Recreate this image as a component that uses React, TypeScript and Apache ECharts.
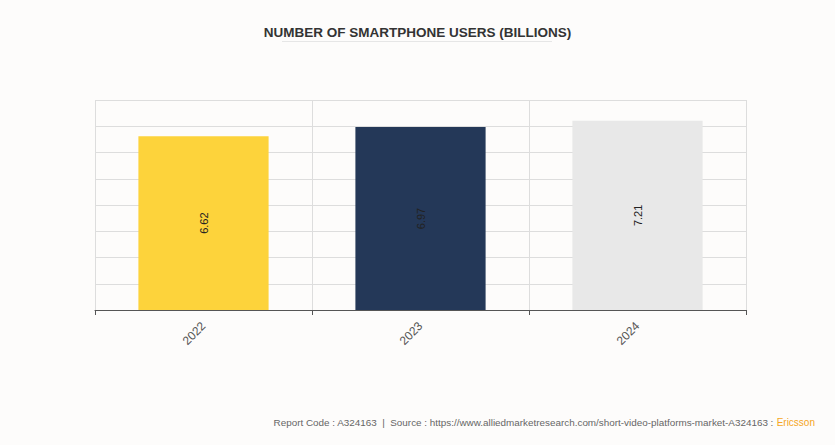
import React, { useEffect, useRef } from "react";
import * as echarts from "echarts";

const categories = ["2022", "2023", "2024"];
const values = [6.62, 6.97, 7.21];
const barColors = ["#FDD33B", "#243858", "#E8E8E8"];

export default function App() {
  const ref = useRef<HTMLDivElement>(null);
  useEffect(() => {
    const chart = echarts.init(ref.current!, null, { renderer: "svg" });
    chart.setOption({
      animation: false,
      backgroundColor: "#fdfcfb",
      title: {
        text: "NUMBER OF SMARTPHONE USERS (BILLIONS)",
        left: "center",
        top: 20,
        textStyle: { fontFamily: "Arial, Liberation Sans, sans-serif", fontSize: 13.5, fontWeight: "bold", color: "#333" },
      },
      graphic: [
        { type: "rect", shape: { x: 282, y: 41, width: 270, height: 1 }, style: { fill: "#e6e6e6" } },
        {
          type: "text",
          right: 20,
          top: 417,
          style: {
            rich: {
              a: { fill: "#666", fontSize: 9.9, fontFamily: "Arial, Liberation Sans, sans-serif" },
              b: { fill: "#F5A623", fontSize: 10, fontFamily: "Arial, Liberation Sans, sans-serif" },
            },
            text: "{a|Report Code : A324163  |  Source : https://www.alliedmarketresearch.com/short-video-platforms-market-A324163 : }{b|Ericsson}",
          },
        },
      ],
      grid: { left: 95, right: 89, top: 100, bottom: 135 },
      xAxis: {
        type: "category",
        data: categories,
        axisLine: { lineStyle: { color: "#555" } },
        axisTick: { show: true, length: 5, lineStyle: { color: "#555" } },
        splitLine: { show: true, lineStyle: { color: "#dddddd" } },
        axisLabel: { rotate: 45, color: "#555", fontSize: 12, margin: 14, fontFamily: "Arial, Liberation Sans, sans-serif" },
      },
      yAxis: {
        type: "value",
        min: 0,
        max: 8,
        interval: 1,
        axisLabel: { show: false },
        axisLine: { show: false },
        axisTick: { show: false },
        splitLine: { lineStyle: { color: "#dddddd" } },
      },
      series: [
        {
          type: "bar",
          barWidth: "60%",
          data: values.map((v, i) => ({ value: v, itemStyle: { color: barColors[i] } })),
          label: {
            show: true,
            position: "inside",
            rotate: 90,
            color: "#222",
            fontSize: 11,
            fontFamily: "Arial, Liberation Sans, sans-serif",
          },
        },
      ],
    });
    return () => chart.dispose();
  }, []);
  return <div ref={ref} style={{ position: "absolute", left: 0, top: 0, width: 835, height: 445 }} />;
}
